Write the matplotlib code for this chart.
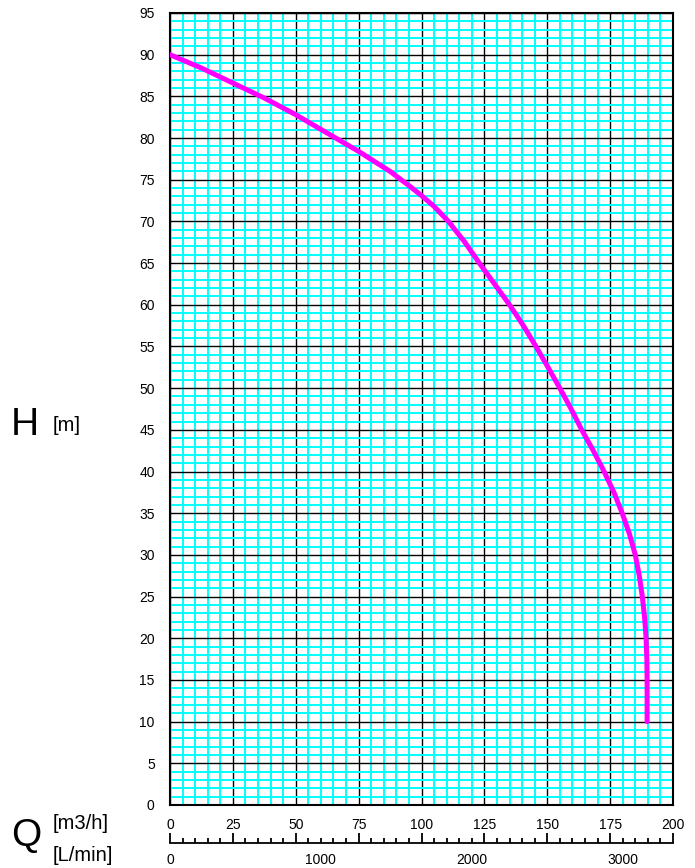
import numpy as np
import matplotlib.pyplot as plt
from matplotlib.ticker import MultipleLocator

plt.rcParams['font.family'] = ['Liberation Sans', 'DejaVu Sans']

# pump curve: flow Q [m3/h] and head H [m]
q = [0, 12.5, 25, 37.5, 50, 62.5, 75, 87.5, 95, 100, 105, 110.7, 117, 123, 129,
     135, 140.5, 145.5, 150.3, 155, 159.5, 163.7, 168.3, 172.6, 176.5, 179.8,
     182.7, 185, 186.6, 187.8, 188.7, 189.3, 189.6, 189.7, 189.7]
h = [90, 88.4, 86.6, 84.8, 82.8, 80.6, 78.4, 76.0, 74.3, 73.1, 71.8, 70, 67.6, 65, 62.5,
     60, 57.5, 55, 52.5, 50, 47.5, 45, 42.5, 40, 37.5, 35,
     32.5, 30, 27.5, 25, 22.5, 20, 17.5, 15, 10]

q_ticks = [0, 25, 50, 75, 100, 125, 150, 175, 200]
h_ticks = list(range(0, 96, 5))
lmin_ticks = [0, 1000, 2000, 3000]

W, H = 695, 868
fig = plt.figure(figsize=(W / 100, H / 100), dpi=100)

x0, x1 = 170, 673
y0, y1 = 13, 805
ax = fig.add_axes([x0 / W, 1 - y1 / H, (x1 - x0) / W, (y1 - y0) / H])
ax.set_xlim(0, 200)
ax.set_ylim(0, 95)

ax.xaxis.set_major_locator(MultipleLocator(25))
ax.xaxis.set_minor_locator(MultipleLocator(5))
ax.yaxis.set_major_locator(MultipleLocator(5))
ax.yaxis.set_minor_locator(MultipleLocator(1))
ax.grid(which='minor', color='#00ffff', linewidth=1.4)
ax.grid(which='major', color='black', linewidth=1.0)
ax.set_axisbelow(True)
ax.set_yticks(h_ticks)
ax.tick_params(which='both', length=0)
ax.tick_params(axis='y', labelsize=10, pad=11)
ax.tick_params(axis='x', labelbottom=False)
for s in ax.spines.values():
    s.set_linewidth(1.5)

ax.plot(q, h, color='#ff00ff', linewidth=3.6, solid_capstyle='round',
        solid_joinstyle='round', zorder=3)

# separate flow scale below the chart
ax2 = fig.add_axes([x0 / W, 1 - 843 / H, (x1 - x0) / W, 10 / H])
ax2.set_xlim(0, 200)
ax2.set_ylim(0, 1)
ax2.set_yticks([])
for k in ['top', 'left', 'right']:
    ax2.spines[k].set_visible(False)
ax2.spines['bottom'].set_linewidth(1.3)
ax2.patch.set_visible(False)
ax2.set_xticks(q_ticks)
ax2.xaxis.set_minor_locator(MultipleLocator(5))
ax2.tick_params(axis='x', which='major', direction='in', length=7, width=1.3,
                labelbottom=False, labeltop=True, top=False, labelsize=10, pad=1)
ax2.tick_params(axis='x', which='minor', direction='in', length=3.5, width=1.3, top=False)

sec = ax2.secondary_xaxis('bottom', functions=(lambda v: v * 1000 / 60, lambda v: v * 60 / 1000))
sec.set_xticks(lmin_ticks)
sec.spines['bottom'].set_visible(False)
sec.tick_params(length=0, labelsize=10, pad=7)

fig.text(11 / W, 1 - 435 / H, 'H', fontsize=28, va='baseline', ha='left')
fig.text(53 / W, 1 - 431 / H, '[m]', fontsize=14.5, va='baseline', ha='left')
fig.text(11 / W, 1 - 846 / H, 'Q', fontsize=28, va='baseline', ha='left')
fig.text(53 / W, 1 - 829 / H, '[m3/h]', fontsize=14.5, va='baseline', ha='left')
fig.text(53 / W, 1 - 861 / H, '[L/min]', fontsize=14.5, va='baseline', ha='left')

fig.savefig('out.png', dpi=100)
